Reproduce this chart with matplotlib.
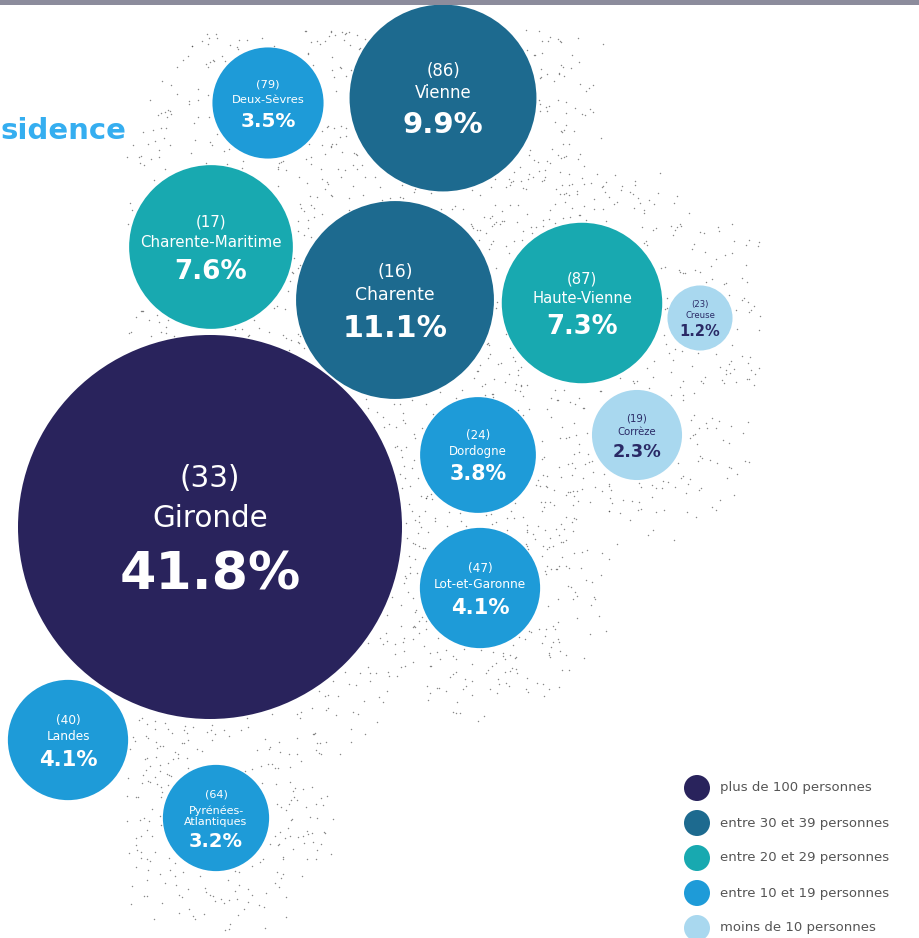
import numpy as np
import matplotlib.pyplot as plt
from matplotlib.patches import Circle, Rectangle

# data
codes = ['(33)', '(16)', '(86)', '(17)', '(87)', '(79)', '(24)', '(47)',
         '(40)', '(64)', '(19)', '(23)']
names = ['Gironde', 'Charente', 'Vienne', 'Charente-Maritime', 'Haute-Vienne',
         'Deux-Sèvres', 'Dordogne', 'Lot-et-Garonne', 'Landes',
         'Pyrénées-\nAtlantiques', 'Corrèze', 'Creuse']
shares = [41.8, 11.1, 9.9, 7.6, 7.3, 3.5, 3.8, 4.1, 4.1, 3.2, 2.3, 1.2]
classes = [0, 1, 1, 2, 2, 3, 3, 3, 3, 3, 4, 4]
class_labels = ['plus de 100 personnes', 'entre 30 et 39 personnes',
                'entre 20 et 29 personnes', 'entre 10 et 19 personnes',
                'moins de 10 personnes']

# layout (map-like arrangement, pixel units)
cx = [210, 395, 443, 211, 582, 268, 478, 480, 68, 216, 637, 700]
cy = [527, 300, 98, 247, 303, 103, 455, 588, 740, 818, 435, 318]

colors = ['#29235c', '#1d6a8f', '#18a9b0', '#1e9bd8', '#a9d8ef']
text_colors = ['white', 'white', 'white', 'white', '#2a2a66']

W, H = 919, 938
fig = plt.figure(figsize=(W / 100, H / 100), dpi=100)
ax = fig.add_axes([0, 0, 1, 1])
ax.set_xlim(0, W)
ax.set_ylim(H, 0)
ax.axis('off')

k = 192 / np.sqrt(shares[0])
radii = [k * np.sqrt(s) for s in shares]

# stipple texture around the bubbles (deterministic hash, decoration only)
def frac_hash(v, a):
    return (np.sin(v * a) * 43758.5453) % 1

n = 14000
i = np.arange(1, n + 1, dtype=float)
px = 100 + 660 * frac_hash(i, 12.9898)
py = 30 + 910 * frac_hash(i, 78.233)
w = frac_hash(i, 37.719)
keep = np.zeros(n, bool)
inside = np.zeros(n, bool)
for x0, y0, r in zip(cx, cy, radii):
    d = np.hypot(px - x0, py - y0)
    keep |= d < r + 55 * (0.6 + 0.8 * w)
    inside |= d < r + 2
keep &= ~inside
keep &= px > 125
keep &= frac_hash(i, 93.989) < 0.35
ax.scatter(px[keep], py[keep], s=1.1, color='#3a3a3a', alpha=0.6, lw=0)

for j in range(len(shares)):
    r = radii[j]
    c = classes[j]
    ax.add_patch(Circle((cx[j], cy[j]), r, color=colors[c], lw=0))
    lab_fs = 0.095 * r + 3
    pct_fs = 0.17 * r + 5
    lab_px = lab_fs * 1.389
    pct_px = pct_fs * 1.389
    nlines = names[j].count('\n') + 1
    y_name = lab_px * 1.35
    y_pct = y_name + lab_px * 1.2 * (nlines - 1) / 2 + 0.7 * lab_px * (1 + 0.4 * (nlines - 1)) + 0.7 * pct_px
    top = cy[j] - y_pct / 2
    tc = text_colors[c]
    ax.text(cx[j], top, codes[j], ha='center', va='center', color=tc, fontsize=lab_fs)
    ax.text(cx[j], top + y_name + lab_px * 0.6 * (nlines - 1), names[j], ha='center',
            va='center', color=tc, fontsize=lab_fs, linespacing=1.1)
    ax.text(cx[j], top + y_pct, f'{shares[j]:.1f}%', ha='center', va='center',
            color=tc, fontsize=pct_fs, fontweight='bold')

# legend
for c, lab in enumerate(class_labels):
    ly = 788 + 35 * c
    ax.add_patch(Circle((697, ly), 13, color=colors[c], lw=0))
    ax.text(720, ly, lab, ha='left', va='center', fontsize=9.5, color='#555555')

# cut-off title and top bar
ax.text(0, 131, 'sidence', ha='left', va='center', fontsize=21,
        fontweight='bold', color='#35aef0')
ax.add_patch(Rectangle((0, 0), W, 5, color='#8c8c9c', lw=0))

fig.savefig('out.png', dpi=100)
